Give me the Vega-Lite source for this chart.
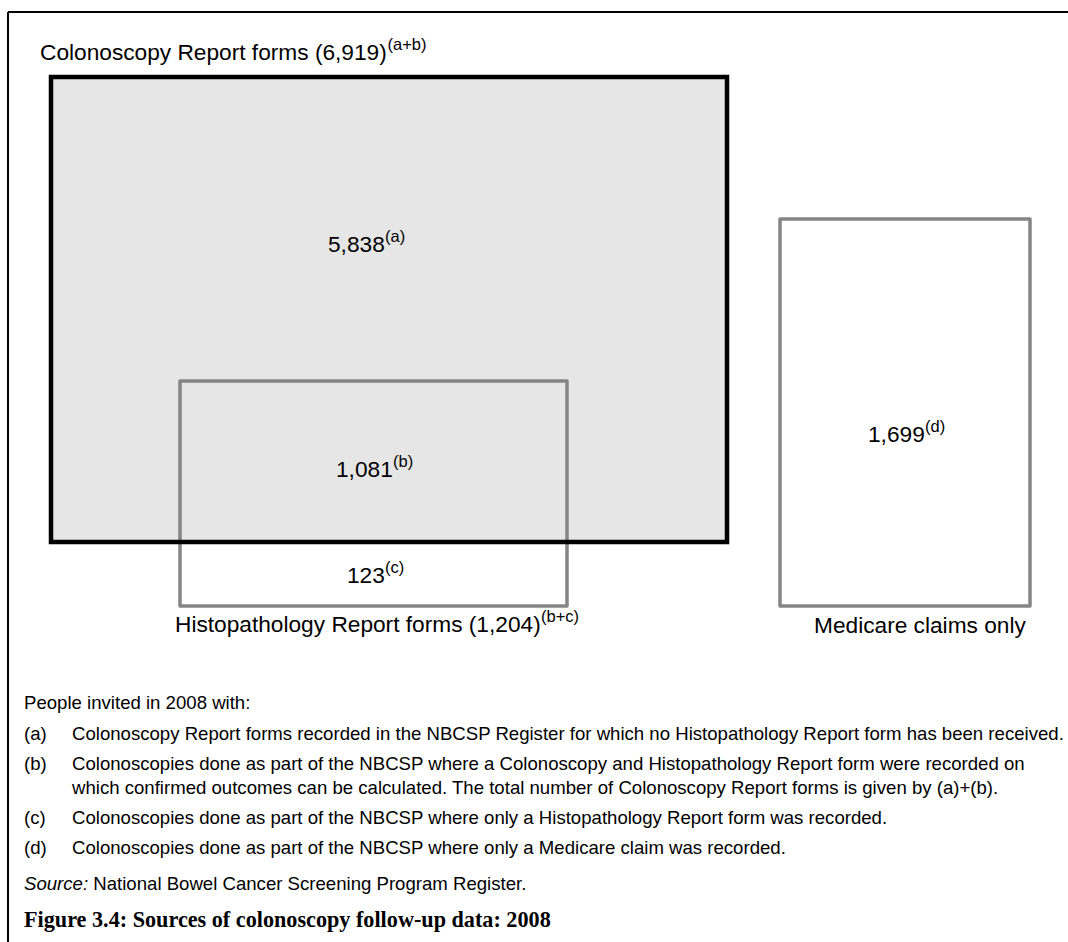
{
  "$schema": "https://vega.github.io/schema/vega-lite/v6.json",
  "width": 1068,
  "height": 942,
  "autosize": {"type": "none"},
  "padding": 0,
  "background": "white",
  "config": {"view": {"stroke": null}},
  "datasets": {
    "frame": [
      {"x": 8, "y": 12, "x2": 8, "y2": 942},
      {"x": 8, "y": 12, "x2": 1068, "y2": 12}
    ],
    "boxes": [
      {"name": "Colonoscopy Report forms", "x": 51, "x2": 727, "y": 77, "y2": 542},
      {"name": "Histopathology Report forms", "x": 180, "x2": 567, "y": 381, "y2": 606},
      {"name": "Medicare claims only", "x": 780, "x2": 1030, "y": 219, "y2": 606}
    ],
    "labels": [
      {"kind": "main", "text": "Colonoscopy Report forms (6,919)", "x": 40, "y": 60},
      {"kind": "sup", "text": "(a+b)", "x": 387.5, "y": 50},
      {"kind": "main", "text": "5,838", "x": 328, "y": 252},
      {"kind": "sup", "text": "(a)", "x": 385, "y": 242},
      {"kind": "main", "text": "1,081", "x": 336, "y": 477},
      {"kind": "sup", "text": "(b)", "x": 393, "y": 467},
      {"kind": "main", "text": "123", "x": 347, "y": 583},
      {"kind": "sup", "text": "(c)", "x": 385, "y": 573},
      {"kind": "main", "text": "Histopathology Report forms (1,204)", "x": 175, "y": 632},
      {"kind": "sup", "text": "(b+c)", "x": 541, "y": 622},
      {"kind": "main", "text": "1,699", "x": 868, "y": 442},
      {"kind": "sup", "text": "(d)", "x": 925, "y": 432},
      {"kind": "main", "text": "Medicare claims only", "x": 814, "y": 633},
      {"kind": "note", "text": "People invited in 2008 with:", "x": 24, "y": 709},
      {"kind": "note", "text": "(a)", "x": 24, "y": 740},
      {"kind": "note", "text": "Colonoscopy Report forms recorded in the NBCSP Register for which no Histopathology Report form has been received.", "x": 72, "y": 740},
      {"kind": "note", "text": "(b)", "x": 24, "y": 770},
      {"kind": "note", "text": "Colonoscopies done as part of the NBCSP where a Colonoscopy and Histopathology Report form were recorded on", "x": 72, "y": 770},
      {"kind": "note", "text": "which confirmed outcomes can be calculated. The total number of Colonoscopy Report forms is given by (a)+(b).", "x": 72, "y": 794},
      {"kind": "note", "text": "(c)", "x": 24, "y": 824},
      {"kind": "note", "text": "Colonoscopies done as part of the NBCSP where only a Histopathology Report form was recorded.", "x": 72, "y": 824},
      {"kind": "note", "text": "(d)", "x": 24, "y": 854},
      {"kind": "note", "text": "Colonoscopies done as part of the NBCSP where only a Medicare claim was recorded.", "x": 72, "y": 854},
      {"kind": "italic", "text": "Source:", "x": 24, "y": 890},
      {"kind": "note", "text": "National Bowel Cancer Screening Program Register.", "x": 93.3, "y": 890},
      {"kind": "caption", "text": "Figure 3.4: Sources of colonoscopy follow-up data: 2008", "x": 24, "y": 927}
    ]
  },
  "encoding": {
    "x": {"field": "x", "type": "quantitative", "scale": {"domain": [0, 1068], "nice": false, "zero": false}, "axis": null},
    "y": {"field": "y", "type": "quantitative", "scale": {"domain": [0, 942], "nice": false, "zero": false, "reverse": true}, "axis": null}
  },
  "layer": [
    {
      "data": {"name": "frame"},
      "mark": {"type": "rule", "color": "black", "strokeWidth": 2},
      "encoding": {
        "x2": {"field": "x2"},
        "y2": {"field": "y2"}
      }
    },
    {
      "data": {"name": "boxes"},
      "transform": [{"filter": "datum.name === 'Colonoscopy Report forms'"}],
      "mark": {"type": "rect", "fill": "#e6e6e6", "strokeWidth": 0},
      "encoding": {"x2": {"field": "x2"}, "y2": {"field": "y2"}}
    },
    {
      "data": {"name": "boxes"},
      "transform": [{"filter": "datum.name !== 'Colonoscopy Report forms'"}],
      "mark": {"type": "rect", "fill": null, "fillOpacity": 0, "stroke": "#858585", "strokeWidth": 3.5, "strokeJoin": "round"},
      "encoding": {"x2": {"field": "x2"}, "y2": {"field": "y2"}}
    },
    {
      "data": {"name": "boxes"},
      "transform": [{"filter": "datum.name === 'Colonoscopy Report forms'"}],
      "mark": {"type": "rect", "fill": null, "fillOpacity": 0, "stroke": "black", "strokeWidth": 4.5},
      "encoding": {"x2": {"field": "x2"}, "y2": {"field": "y2"}}
    },
    {
      "data": {"name": "labels"},
      "transform": [{"filter": "datum.kind === 'main'"}],
      "mark": {"type": "text", "align": "left", "baseline": "alphabetic", "font": "Liberation Sans", "fontSize": 22.7, "color": "black"},
      "encoding": {"text": {"field": "text"}}
    },
    {
      "data": {"name": "labels"},
      "transform": [{"filter": "datum.kind === 'sup'"}],
      "mark": {"type": "text", "align": "left", "baseline": "alphabetic", "font": "Liberation Sans", "fontSize": 16.5, "color": "black"},
      "encoding": {"text": {"field": "text"}}
    },
    {
      "data": {"name": "labels"},
      "transform": [{"filter": "datum.kind === 'note'"}],
      "mark": {"type": "text", "align": "left", "baseline": "alphabetic", "font": "Liberation Sans", "fontSize": 18.6, "color": "black"},
      "encoding": {"text": {"field": "text"}}
    },
    {
      "data": {"name": "labels"},
      "transform": [{"filter": "datum.kind === 'italic'"}],
      "mark": {"type": "text", "align": "left", "baseline": "alphabetic", "font": "Liberation Sans", "fontStyle": "italic", "fontSize": 18.6, "color": "black"},
      "encoding": {"text": {"field": "text"}}
    },
    {
      "data": {"name": "labels"},
      "transform": [{"filter": "datum.kind === 'caption'"}],
      "mark": {"type": "text", "align": "left", "baseline": "alphabetic", "font": "Liberation Serif", "fontWeight": "bold", "fontSize": 22.2, "color": "black"},
      "encoding": {"text": {"field": "text"}}
    }
  ]
}
